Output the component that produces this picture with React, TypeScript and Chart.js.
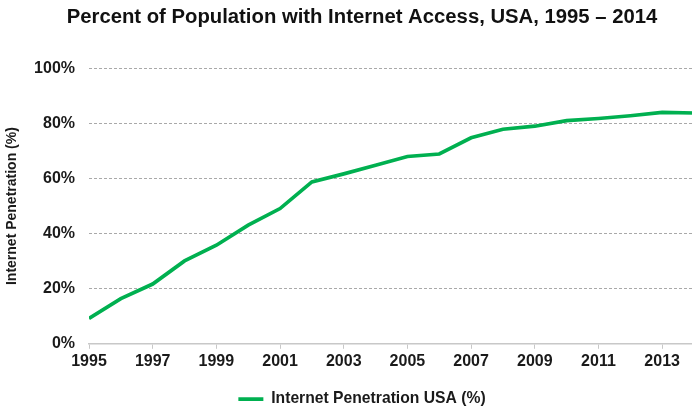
import React, { useEffect, useRef } from "react";
import { Chart, registerables } from "chart.js";

Chart.register(...registerables);

const titleText = "Percent of Population with Internet Access, USA, 1995 \u2013 2014";
const seriesLabel = "Internet Penetration USA (%)";
const yAxisTitle = "Internet Penetration (%)";
const years = [1995, 1996, 1997, 1998, 1999, 2000, 2001, 2002, 2003, 2004, 2005, 2006, 2007, 2008, 2009, 2010, 2011, 2012, 2013, 2014];
const penetration = [9.2, 16.4, 21.7, 30.1, 35.8, 43.1, 49.1, 58.8, 61.7, 64.8, 68.0, 68.9, 74.8, 77.9, 79.0, 81.0, 81.8, 82.8, 84.0, 83.8];
const xTickYears = [1995, 1997, 1999, 2001, 2003, 2005, 2007, 2009, 2011, 2013];
const yTicks = [0, 20, 40, 60, 80, 100];

const GREEN = "#00b050";
const TEXT = "#1a1a1a";
const FONT = "'Liberation Sans', Arial, Helvetica, sans-serif";

export default function App() {
  const ref = useRef<HTMLCanvasElement | null>(null);

  useEffect(() => {
    if (!ref.current) return;
    Chart.defaults.font.family = FONT;
    const chart = new Chart(ref.current, {
      type: "line",
      data: {
        datasets: [
          {
            label: seriesLabel,
            data: years.map((y, i) => ({ x: y, y: penetration[i] })),
            borderColor: GREEN,
            backgroundColor: GREEN,
            borderWidth: 3.7,
            pointRadius: 0,
            tension: 0,
          },
        ],
      },
      options: {
        responsive: false,
        animation: false,
        devicePixelRatio: 1,
        layout: { padding: { left: 30, right: 0, top: 0, bottom: 0 } },
        plugins: {
          title: {
            display: true,
            text: titleText,
            color: "#111111",
            font: { family: FONT, size: 20.3, weight: "bold" },
            padding: { top: 5, bottom: 39 },
          },
          legend: {
            display: true,
            position: "bottom",
            labels: {
              usePointStyle: true,
              pointStyle: "line",
              pointStyleWidth: 25,
              color: TEXT,
              font: { family: FONT, size: 15.7, weight: "bold" },
              padding: 10,
            },
          },
          tooltip: { enabled: false },
        },
        scales: {
          x: {
            type: "linear",
            min: years[0],
            max: years[years.length - 1],
            afterBuildTicks: (axis: any) => {
              axis.ticks = xTickYears.map((v) => ({ value: v }));
            },
            afterFit: (scale: any) => {
              scale.height = 37.5;
            },
            grid: {
              display: true,
              drawOnChartArea: false,
              drawTicks: true,
              tickLength: 5,
              color: "#c8c8c8",
            },
            border: { display: true, color: "#c8c8c8", width: 1.5 },
            ticks: {
              autoSkip: false,
              maxRotation: 0,
              padding: 3,
              color: TEXT,
              font: { family: FONT, size: 16, weight: "bold" },
              callback: (v: any) => String(v),
            },
          },
          y: {
            min: 0,
            max: 100,
            afterBuildTicks: (axis: any) => {
              axis.ticks = yTicks.map((v) => ({ value: v }));
            },
            afterFit: (scale: any) => {
              scale.width = 59;
            },
            grid: {
              display: true,
              drawTicks: false,
              color: (ctx: any) => (ctx.tick && ctx.tick.value === 0 ? "rgba(0,0,0,0)" : "#a9a9a9"),
              lineWidth: 1,
            },
            border: { display: false, dash: [3, 2] },
            ticks: {
              padding: 14,
              color: TEXT,
              font: { family: FONT, size: 16, weight: "bold" },
              callback: (v: any) => `${v}%`,
            },
            title: {
              display: true,
              text: yAxisTitle,
              color: TEXT,
              font: { family: FONT, size: 14, weight: "bold" },
              padding: { top: -26, bottom: 0 },
            },
          },
        },
      },
    });
    return () => chart.destroy();
  }, []);

  return (
    <div style={{ position: "fixed", left: 0, top: 0, width: 692, height: 409, overflow: "hidden", background: "#ffffff" }}>
      <canvas ref={ref} width={694} height={417} style={{ display: "block" }} />
    </div>
  );
}
